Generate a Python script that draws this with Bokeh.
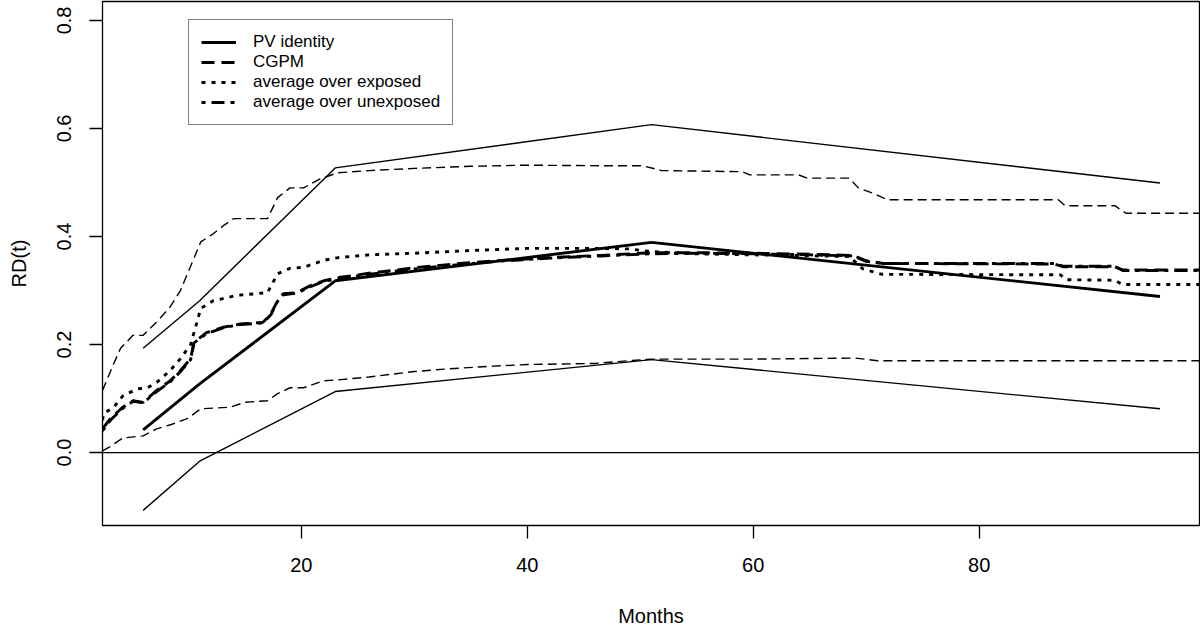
from bokeh.plotting import figure
from bokeh.models import Range1d, Span, Legend, LegendItem, FixedTicker, NumeralTickFormatter
from bokeh.embed import file_html
from bokeh.resources import INLINE

# PV identity estimate and its pointwise band (thin solid)
months_pv = [6, 11, 23, 51, 96]
rd_pv = [0.042, 0.127, 0.318, 0.389, 0.289]
rd_pv_upper = [0.193, 0.281, 0.527, 0.607, 0.499]
rd_pv_lower = [-0.107, -0.016, 0.113, 0.172, 0.081]

# CGPM (thick dashed)
cgpm_x = [2.4, 3.1, 4.2, 5.1, 6.0, 7.2, 8.4, 9.3, 10.2, 10.5, 11.6, 13.1, 14.6, 16.6, 17.3, 17.9,
          18.4, 19.6, 20.8, 22.0, 23.3, 26, 30, 34, 38, 42, 46.5, 51, 55, 60, 65, 68.8, 70, 71.5,
          86.7, 87.4, 92, 92.7, 99.5]
cgpm_y = [0.044, 0.063, 0.084, 0.096, 0.093, 0.115, 0.133, 0.152, 0.174, 0.204, 0.222, 0.232, 0.238,
          0.241, 0.257, 0.281, 0.294, 0.296, 0.309, 0.318, 0.324, 0.332, 0.342, 0.350, 0.356, 0.361,
          0.365, 0.370, 0.370, 0.369, 0.367, 0.365, 0.355, 0.350, 0.349, 0.344, 0.344, 0.338, 0.338]

# average over unexposed (thick dash-dot)
unexp_x = [2.4, 3.1, 4.2, 5.1, 6.0, 7.2, 8.4, 9.3, 10.2, 10.5, 11.6, 13.1, 14.6, 16.6, 17.3, 17.9,
           18.4, 19.6, 20.8, 22.0, 23.3, 26, 30, 34, 38, 42, 46.5, 51, 55, 60, 65, 68.8, 70, 71.5,
           86.7, 87.4, 92, 92.7, 99.5]
unexp_y = [0.040, 0.060, 0.082, 0.095, 0.092, 0.113, 0.131, 0.150, 0.172, 0.203, 0.220, 0.231, 0.237,
           0.240, 0.255, 0.280, 0.292, 0.295, 0.307, 0.317, 0.322, 0.330, 0.340, 0.348, 0.355, 0.360,
           0.364, 0.368, 0.369, 0.368, 0.366, 0.364, 0.354, 0.350, 0.350, 0.345, 0.345, 0.337, 0.337]

# average over exposed (thick dotted)
exp_x = [2.4, 2.5, 3.4, 4.2, 5.5, 6.4, 7.2, 8.4, 9.3, 10.2, 10.8, 11.1, 12.2, 14.3, 17.0, 17.9, 19.0,
         20.2, 22.0, 23.3, 26, 30, 35, 40, 46.5, 49, 51, 55, 60, 68.5, 69.7, 71.4, 87.2, 87.7, 92,
         92.7, 99.5]
exp_y = [0.060, 0.072, 0.084, 0.105, 0.118, 0.120, 0.130, 0.152, 0.174, 0.200, 0.244, 0.267, 0.281,
         0.291, 0.296, 0.331, 0.341, 0.343, 0.356, 0.361, 0.366, 0.369, 0.374, 0.378, 0.378, 0.377,
         0.372, 0.368, 0.366, 0.363, 0.340, 0.330, 0.329, 0.320, 0.319, 0.311, 0.311]

# CGPM band (thin dashed)
ciu_x = [2.4, 3.4, 4.0, 5.1, 6.0, 7.3, 8.4, 9.3, 10.2, 11.1, 12.2, 13.1, 14.0, 17.0, 17.9, 19.0, 20.2,
         21.5, 23.2, 26, 30, 35, 40, 46.5, 50.2, 51.9, 59.0, 59.7, 64.0, 64.8, 68.5, 69.3, 70.6, 71.9,
         87.0, 87.6, 92.0, 93.0, 99.5]
ciu_y = [0.115, 0.165, 0.193, 0.217, 0.217, 0.244, 0.270, 0.300, 0.345, 0.390, 0.405, 0.420, 0.433,
         0.433, 0.472, 0.490, 0.490, 0.505, 0.518, 0.522, 0.526, 0.530, 0.532, 0.531, 0.531, 0.522,
         0.520, 0.514, 0.514, 0.508, 0.508, 0.490, 0.480, 0.468, 0.468, 0.457, 0.457, 0.443, 0.443]
cil_x = [2.4, 3.0, 4.2, 6.0, 7.2, 8.5, 9.9, 11.1, 13.7, 15.0, 17.0, 17.9, 19.0, 20.2, 22.0, 23.5, 26,
         28, 30, 33, 37, 40, 46, 49, 51, 60, 69, 71, 99.5]
cil_y = [0.003, 0.010, 0.027, 0.031, 0.044, 0.052, 0.063, 0.081, 0.084, 0.093, 0.096, 0.109, 0.120,
         0.120, 0.133, 0.135, 0.140, 0.145, 0.150, 0.155, 0.160, 0.163, 0.165, 0.170, 0.173, 0.173,
         0.175, 0.170, 0.170]

x_ticks = [20, 40, 60, 80]
y_ticks = [0.0, 0.2, 0.4, 0.6, 0.8]
legend_labels = ["PV identity", "CGPM", "average over exposed", "average over unexposed"]

FONT = "Liberation Sans"

p = figure(width=1200, height=630, output_backend="svg", toolbar_location=None,
           x_range=Range1d(2.4, 99.5), y_range=Range1d(-0.135, 0.835),
           min_border_left=102, min_border_right=1, min_border_top=1, min_border_bottom=105)
p.background_fill_color = "white"
p.border_fill_color = "white"
p.outline_line_color = "black"
p.outline_line_width = 1.3
p.xgrid.visible = False
p.ygrid.visible = False

p.xaxis.ticker = FixedTicker(ticks=x_ticks)
p.yaxis.ticker = FixedTicker(ticks=y_ticks)
p.yaxis.formatter = NumeralTickFormatter(format="0.0")
p.yaxis.major_label_orientation = "vertical"
p.xaxis.axis_label = "Months"
p.yaxis.axis_label = "RD(t)"
for ax in (p.xaxis, p.yaxis):
    ax.axis_line_color = None
    ax.major_tick_in = 0
    ax.major_tick_out = 13
    ax.major_tick_line_color = "black"
    ax.major_tick_line_width = 1.3
    ax.minor_tick_line_color = None
    ax.major_label_text_font = FONT
    ax.major_label_text_font_size = "20px"
    ax.major_label_text_color = "black"
    ax.axis_label_text_font = FONT
    ax.axis_label_text_font_size = "20px"
    ax.axis_label_text_font_style = "normal"
    ax.axis_label_text_color = "black"
p.xaxis.major_label_standoff = 19
p.yaxis.major_label_standoff = 18
p.xaxis.axis_label_standoff = 30
p.yaxis.axis_label_standoff = 25

p.add_layout(Span(location=0, dimension="width", line_color="black", line_width=1.3))

THIN = 1.4
THICK = 2.9
p.line(months_pv, rd_pv_upper, line_color="black", line_width=THIN)
p.line(months_pv, rd_pv_lower, line_color="black", line_width=THIN)
p.line(ciu_x, ciu_y, line_color="black", line_width=THIN, line_dash="9 5")
p.line(cil_x, cil_y, line_color="black", line_width=THIN, line_dash="9 5")

r_pv = p.line(months_pv, rd_pv, line_color="black", line_width=THICK)
r_cg = p.line(cgpm_x, cgpm_y, line_color="black", line_width=THICK, line_dash="13 7")
r_ex = p.line(exp_x, exp_y, line_color="black", line_width=THICK, line_dash="4 6")
r_un = p.line(unexp_x, unexp_y, line_color="black", line_width=THICK, line_dash="4 6 13 6")

legend = Legend(
    items=[LegendItem(label=lab, renderers=[r]) for lab, r in zip(legend_labels, [r_pv, r_cg, r_ex, r_un])],
    location=(86, 400), margin=0, padding=12, spacing=0,
    glyph_width=35, glyph_height=20, label_height=20, label_standoff=17,
    label_text_font=FONT, label_text_font_size="17px", label_text_color="black",
    border_line_color="black", border_line_width=1.3,
    background_fill_color="white", background_fill_alpha=1.0,
)
p.add_layout(legend)

open("out.html", "w").write(file_html(p, INLINE))
